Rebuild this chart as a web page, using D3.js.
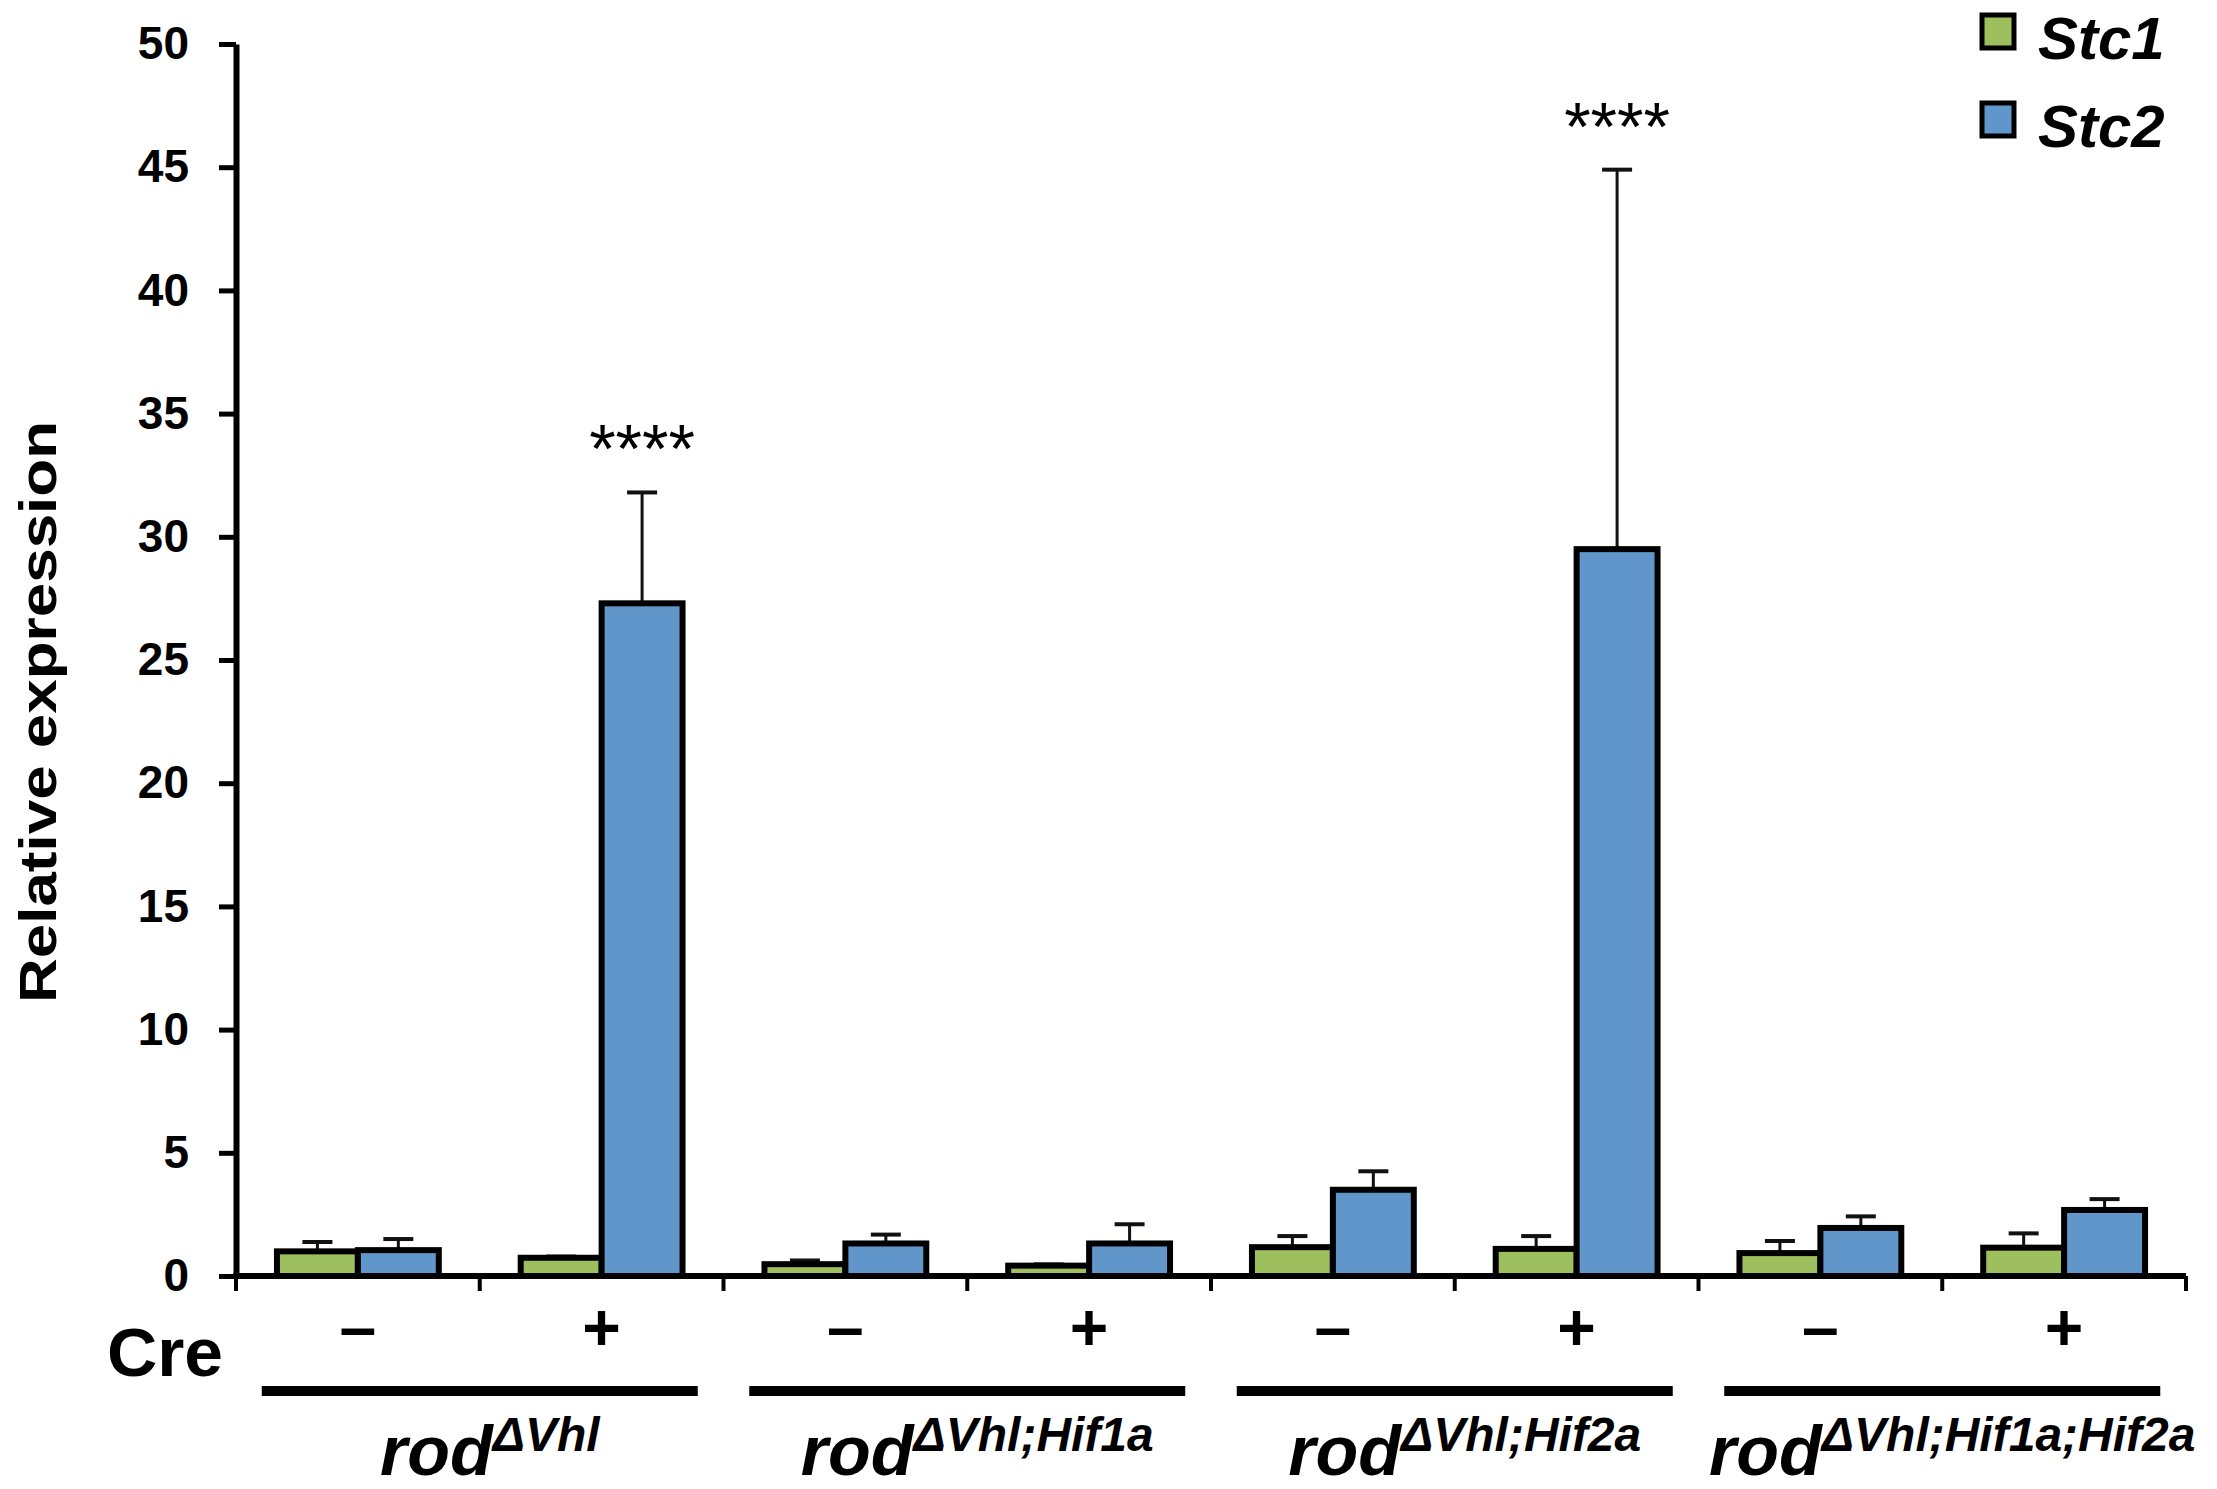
<!DOCTYPE html>
<html>
<head>
<meta charset="utf-8">
<script src="https://cdn.jsdelivr.net/npm/d3@7/dist/d3.min.js"></script>
<style>
  body { margin: 0; background: #fff; }
  text { font-family: Arial, "Liberation Sans", Helvetica, sans-serif; }
</style>
</head>
<body>
<div id="chart"></div>
<script>
// data
var creLabels = ['\u2013', '+', '\u2013', '+', '\u2013', '+', '\u2013', '+'];
var groupBase = 'rod';
var groupSup = ['\u0394Vhl', '\u0394Vhl;Hif1a', '\u0394Vhl;Hif2a', '\u0394Vhl;Hif1a;Hif2a'];
var seriesNames = ['Stc1', 'Stc2'];
var stc1 = [1.00, 0.74, 0.48, 0.42, 1.17, 1.10, 0.93, 1.15];
var stc1Err = [0.38, 0.05, 0.15, 0.05, 0.45, 0.52, 0.49, 0.58];
var stc2 = [1.05, 27.3, 1.32, 1.32, 3.50, 29.5, 1.95, 2.68];
var stc2Err = [0.45, 4.5, 0.36, 0.78, 0.75, 15.4, 0.47, 0.44];
var stc2Sig = ['', '****', '', '', '', '****', '', ''];
var yTicks = [0, 5, 10, 15, 20, 25, 30, 35, 40, 45, 50];

var width = 2217, height = 1489;
var colors = ['#9dbf5d', '#6196cb'];

var svg = d3.select('#chart').append('svg')
    .attr('width', width).attr('height', height);

var x = d3.scaleBand().domain(d3.range(creLabels.length)).range([236, 2186]);
var y = d3.scaleLinear().domain([0, 50]).range([1276, 44]);
var bw = x.bandwidth() * 0.332;

// y axis
var yAxis = svg.append('g')
    .attr('transform', 'translate(236,0)')
    .call(d3.axisLeft(y).tickValues(yTicks).tickSize(17).tickPadding(30).tickSizeOuter(0));
yAxis.select('.domain').attr('stroke-width', 6);
yAxis.selectAll('.tick line').attr('stroke-width', 5);
yAxis.selectAll('.tick text')
    .attr('font-size', 46).attr('font-weight', 'bold').attr('fill', '#000');

svg.append('text')
    .attr('transform', 'translate(56,' + 712 + ') rotate(-90)')
    .attr('text-anchor', 'middle')
    .attr('font-size', 52).attr('font-weight', 'bold')
    .attr('textLength', 582).attr('lengthAdjust', 'spacingAndGlyphs')
    .text('Relative expression');

// bars
var rows = creLabels.map(function(c, i) {
    return [
        {i: i, s: 0, v: stc1[i], e: stc1Err[i]},
        {i: i, s: 1, v: stc2[i], e: stc2Err[i], sig: stc2Sig[i]}
    ];
});
var flat = [].concat.apply([], rows);
var cx = function(d) { return x(d.i) + x.bandwidth() / 2; };
var bx = function(d) { return cx(d) + (d.s === 0 ? -bw : 0); };

// error bars (upper only)
var err = svg.append('g').selectAll('g').data(flat).enter().append('g');
err.append('line')
    .attr('x1', function(d) { return bx(d) + bw / 2; })
    .attr('x2', function(d) { return bx(d) + bw / 2; })
    .attr('y1', function(d) { return y(d.v); })
    .attr('y2', function(d) { return y(d.v + d.e); })
    .attr('stroke', '#111').attr('stroke-width', 3);
err.append('line')
    .attr('x1', function(d) { return bx(d) + bw / 2 - 15; })
    .attr('x2', function(d) { return bx(d) + bw / 2 + 15; })
    .attr('y1', function(d) { return y(d.v + d.e); })
    .attr('y2', function(d) { return y(d.v + d.e); })
    .attr('stroke', '#111').attr('stroke-width', 4);

svg.append('g').selectAll('rect').data(flat).enter().append('rect')
    .attr('x', bx)
    .attr('y', function(d) { return y(d.v); })
    .attr('width', bw)
    .attr('height', function(d) { return y(0) - y(d.v); })
    .attr('fill', function(d) { return colors[d.s]; })
    .attr('stroke', '#000').attr('stroke-width', 6);

// significance stars
svg.append('g').selectAll('text').data(flat.filter(function(d) { return d.sig; })).enter().append('text')
    .attr('x', function(d) { return bx(d) + bw / 2; })
    .attr('y', function(d) { return y(d.v + d.e) - 20; })
    .attr('text-anchor', 'middle')
    .attr('font-size', 68)
    .text(function(d) { return d.sig; });

// x axis line with boundary ticks
var xLine = svg.append('g');
xLine.append('line')
    .attr('x1', x.range()[0] - 3).attr('x2', x.range()[1])
    .attr('y1', y(0)).attr('y2', y(0))
    .attr('stroke', '#000').attr('stroke-width', 6);
xLine.selectAll('.bt').data(d3.range(creLabels.length + 1)).enter().append('line')
    .attr('x1', function(i) { return x.range()[0] + i * x.step(); })
    .attr('x2', function(i) { return x.range()[0] + i * x.step(); })
    .attr('y1', y(0)).attr('y2', y(0) + 15)
    .attr('stroke', '#000').attr('stroke-width', 4);

// Cre signs
var xAxis = svg.append('g')
    .attr('transform', 'translate(0,1350)')
    .call(d3.axisBottom(x).tickSize(0).tickPadding(0).tickFormat(function(i) { return creLabels[i]; }));
xAxis.select('.domain').remove();
xAxis.selectAll('.tick text')
    .attr('dy', 0).attr('y', 0)
    .attr('font-size', 66).attr('font-weight', 'bold').attr('fill', '#000');

svg.append('text')
    .attr('x', 107).attr('y', 1376)
    .attr('font-size', 68).attr('font-weight', 'bold')
    .attr('textLength', 116).attr('lengthAdjust', 'spacingAndGlyphs')
    .text('Cre');

// genotype groups
var gx = function(g) { return x.range()[0] + (2 * g + 1) * x.step(); };
svg.append('g').selectAll('line').data(groupSup).enter().append('line')
    .attr('x1', function(d, g) { return gx(g) - 218; })
    .attr('x2', function(d, g) { return gx(g) + 218; })
    .attr('y1', 1391).attr('y2', 1391)
    .attr('stroke', '#000').attr('stroke-width', 10);

var gl = svg.append('g').selectAll('text').data(groupSup).enter().append('text')
    .attr('x', function(d, g) { return gx(g) + 10; })
    .attr('y', 1475)
    .attr('text-anchor', 'middle')
    .attr('font-weight', 'bold').attr('font-style', 'italic');
gl.append('tspan').attr('font-size', 70).text(groupBase);
gl.append('tspan').attr('font-size', 48).attr('dy', -24).text(function(d) { return d; });

// legend
var leg = svg.append('g').selectAll('g').data(seriesNames).enter().append('g')
    .attr('transform', function(d, i) { return 'translate(1982,' + (15 + i * 88) + ')'; });
leg.append('rect')
    .attr('width', 32).attr('height', 33)
    .attr('fill', function(d, i) { return colors[i]; })
    .attr('stroke', '#000').attr('stroke-width', 5);
leg.append('text')
    .attr('x', 56).attr('y', 44)
    .attr('font-size', 60).attr('font-weight', 'bold').attr('font-style', 'italic')
    .text(function(d) { return d; });
</script>
</body>
</html>
